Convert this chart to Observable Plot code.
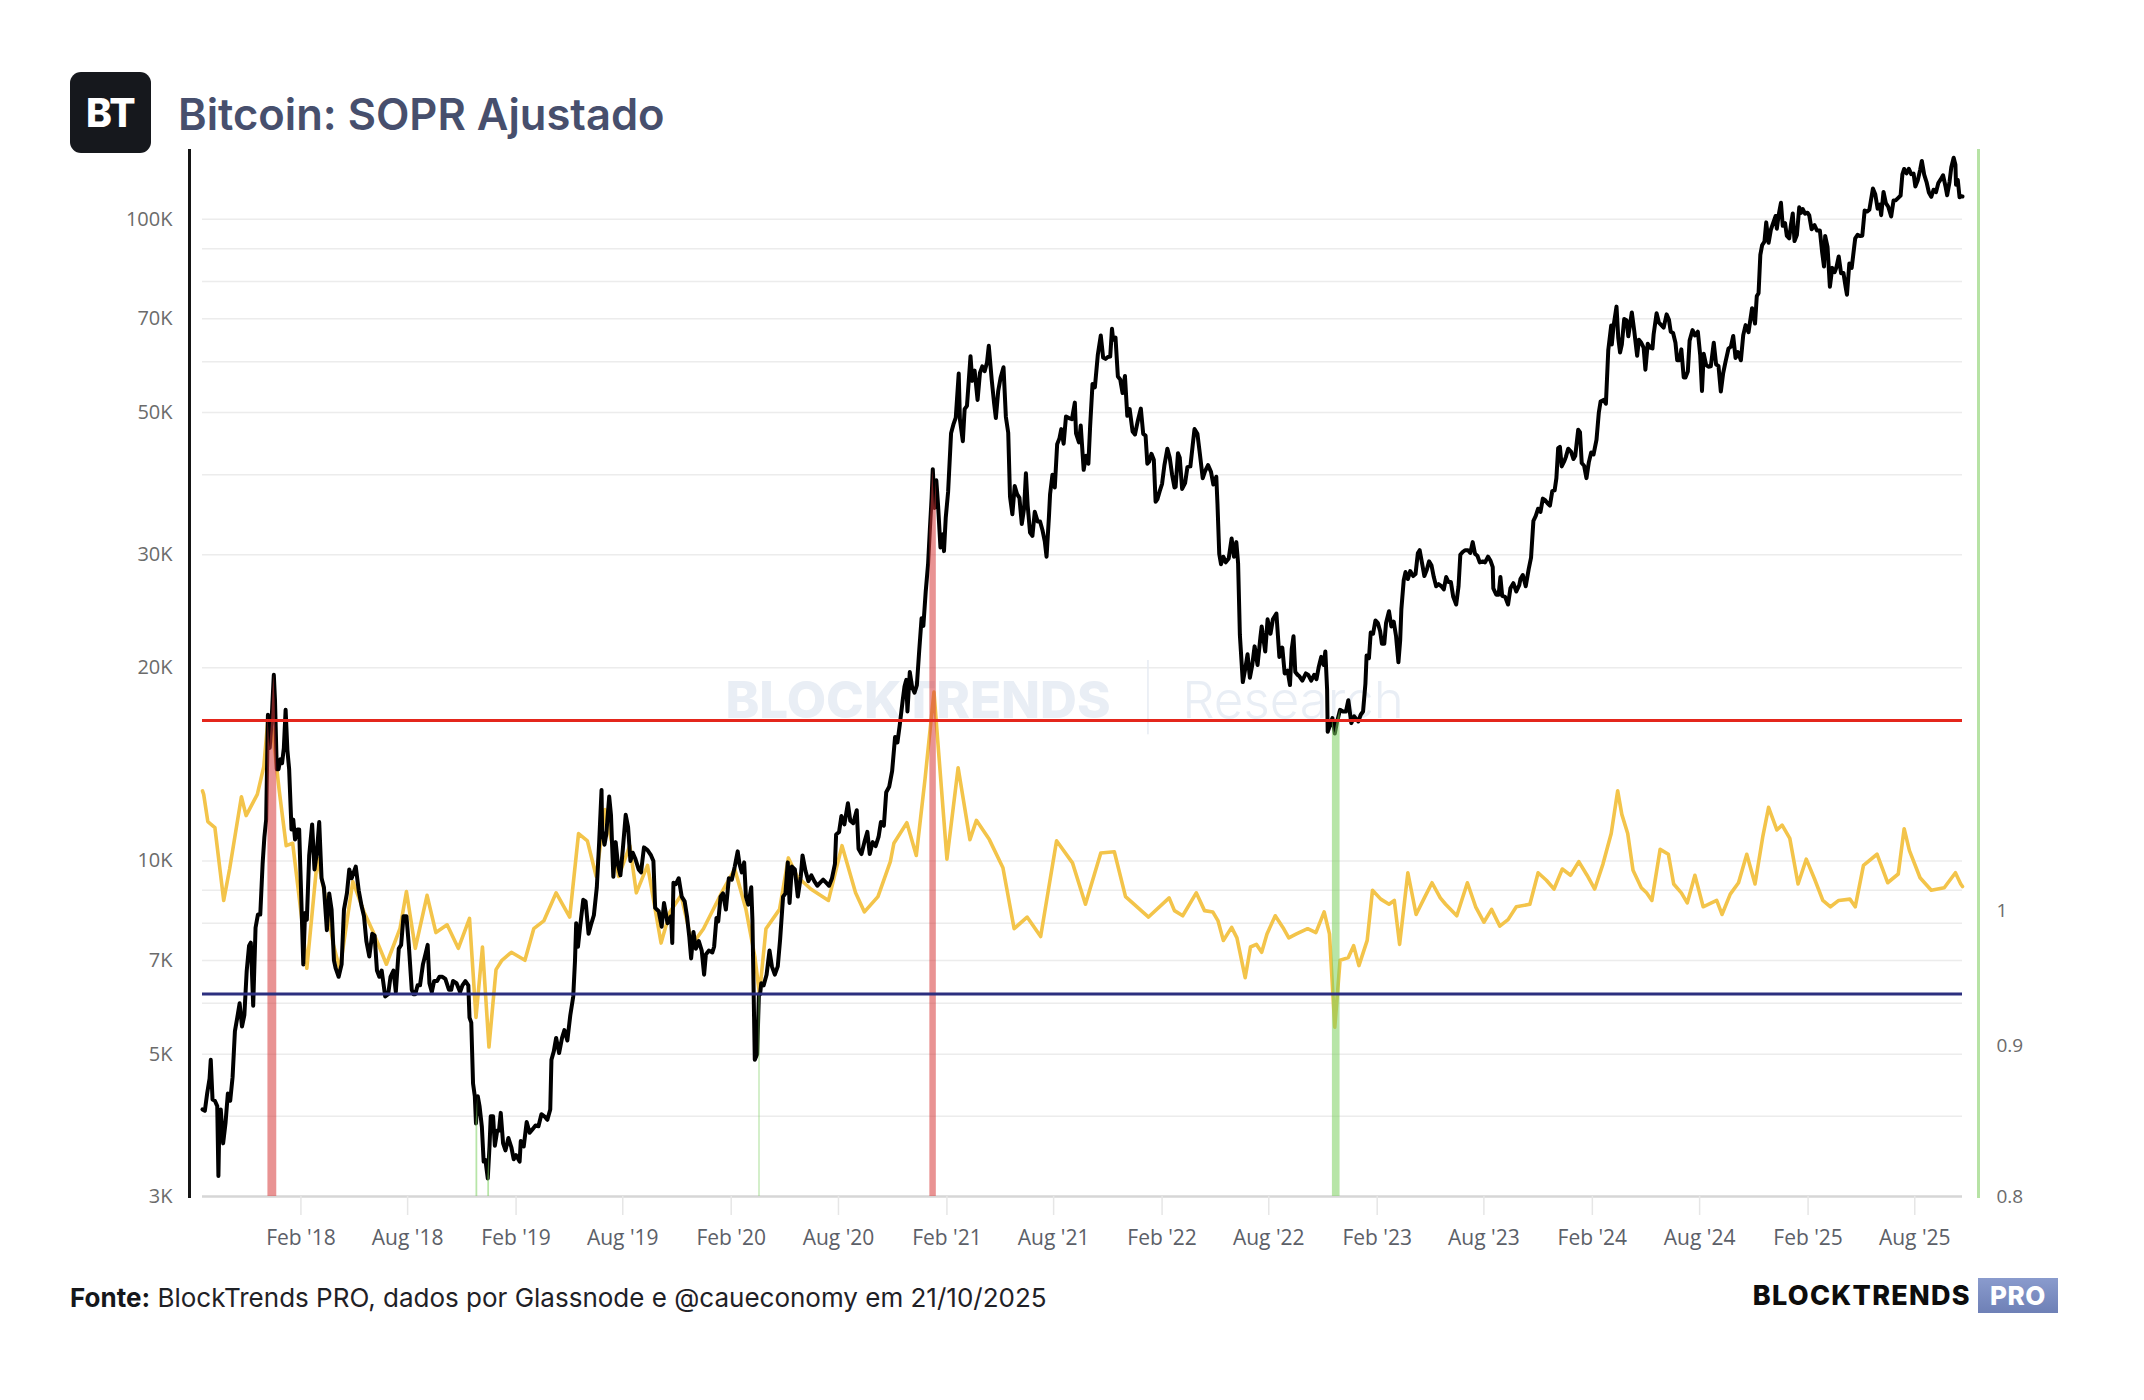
<!DOCTYPE html>
<html>
<head>
<meta charset="utf-8">
<script src="https://cdn.jsdelivr.net/npm/d3@7"></script>
<script src="https://cdn.jsdelivr.net/npm/@observablehq/plot@0.6"></script>
<style>
  html, body { margin: 0; padding: 0; background: #ffffff; }
  #page { position: relative; width: 2144px; }
  #header { position: relative; height: 140px; z-index: 2; }
  #header .logo {
    position: absolute; left: 70px; top: 72px; width: 81px; height: 81px;
    border-radius: 11px; background: #16181d; color: #ffffff;
    font: 800 39px Inter, sans-serif; letter-spacing: -0.5px;
    display: flex; align-items: center; justify-content: center;
  }
  #header .title {
    position: absolute; left: 178px; top: 88px; line-height: 43px;
    font: 600 43.5px Inter, sans-serif; color: #474f6d; white-space: nowrap;
  }
  #chart svg { display: block; }
  #footer { position: relative; height: 70px; }
  #footer .source {
    position: absolute; left: 70px; top: 17px; line-height: 26px;
    font: 400 26px Inter, sans-serif; color: #1f2126; white-space: nowrap;
  }
  #footer .source b { font-weight: 700; color: #15171b; }
  #footer .brand {
    position: absolute; right: 86px; top: 13px; height: 35px;
    display: flex; align-items: center; gap: 7px;
  }
  #footer .brand .name {
    font: 800 27px Inter, sans-serif; letter-spacing: 1.3px; color: #0d0d0d;
  }
  #footer .brand .pro {
    height: 35px; width: 80px; display: flex; align-items: center; justify-content: center;
    background: linear-gradient(#8a9bcd, #6e80b6); color: #ffffff;
    font: 800 26px Inter, sans-serif; letter-spacing: 0.5px;
  }
</style>
</head>
<body>
<div id="page">
  <div id="header">
    <div class="logo">BT</div>
    <div class="title">Bitcoin: SOPR Ajustado</div>
  </div>
  <div id="chart"></div>
  <div id="footer">
    <div class="source"><b>Fonte:</b> BlockTrends PRO, dados por Glassnode e @caueconomy em 21/10/2025</div>
    <div class="brand"><span class="name">BLOCKTRENDS</span><span class="pro">PRO</span></div>
  </div>
</div>
<script>
// Bitcoin price (USD, daily close samples)
const price2017 = [["2017-08-18",4100],["2017-08-22",4080],["2017-08-26",4350],["2017-08-30",4580],["2017-09-01",4900],["2017-09-04",4250],["2017-09-08",4230],["2017-09-12",4150],["2017-09-14",3230],["2017-09-15",3640],["2017-09-18",4100],["2017-09-22",3630],["2017-09-26",3900],["2017-09-30",4340],["2017-10-04",4230],["2017-10-08",4600],["2017-10-12",5430],["2017-10-16",5700],["2017-10-20",6000],["2017-10-24",5520],["2017-10-28",5750],["2017-11-01",6740],["2017-11-05",7380],["2017-11-08",7460],["2017-11-12",5950],["2017-11-16",7870],["2017-11-20",8250],["2017-11-24",8250],["2017-11-28",9900],["2017-12-01",10900],["2017-12-04",11600],["2017-12-07",16900],["2017-12-10",15000],["2017-12-13",16400],["2017-12-17",19500],["2017-12-19",17800],["2017-12-22",13900],["2017-12-25",13900],["2017-12-28",14400],["2017-12-31",14200]];
const price2018 = [["2018-01-03",15000],["2018-01-06",17200],["2018-01-09",14900],["2018-01-12",13900],["2018-01-16",11200],["2018-01-19",11600],["2018-01-22",10800],["2018-01-26",11200],["2018-01-29",11200],["2018-02-01",9100],["2018-02-05",6900],["2018-02-08",8300],["2018-02-11",8100],["2018-02-15",10200],["2018-02-20",11400],["2018-02-24",9700],["2018-02-28",10300],["2018-03-04",11500],["2018-03-08",9400],["2018-03-12",9100],["2018-03-17",7800],["2018-03-21",8900],["2018-03-25",8400],["2018-03-29",7000],["2018-04-01",6800],["2018-04-06",6600],["2018-04-11",6900],["2018-04-15",8400],["2018-04-20",8900],["2018-04-24",9700],["2018-04-28",9400],["2018-05-05",9800],["2018-05-10",9000],["2018-05-15",8500],["2018-05-19",8200],["2018-05-23",7500],["2018-05-28",7100],["2018-06-02",7700],["2018-06-06",7650],["2018-06-10",6750],["2018-06-14",6600],["2018-06-18",6750],["2018-06-24",6150],["2018-06-29",6200],["2018-07-03",6600],["2018-07-08",6750],["2018-07-12",6250],["2018-07-17",7300],["2018-07-21",7400],["2018-07-25",8200],["2018-07-30",8200],["2018-08-03",7400],["2018-08-08",6300],["2018-08-11",6200],["2018-08-14",6200],["2018-08-18",6400],["2018-08-22",6400],["2018-08-27",6900],["2018-09-01",7200],["2018-09-04",7400],["2018-09-07",6450],["2018-09-11",6250],["2018-09-15",6500],["2018-09-20",6500],["2018-09-24",6600],["2018-09-29",6600],["2018-10-04",6550],["2018-10-10",6300],["2018-10-14",6300],["2018-10-17",6500],["2018-10-23",6450],["2018-10-29",6250],["2018-11-02",6400],["2018-11-07",6500],["2018-11-12",6400],["2018-11-14",5700],["2018-11-17",5600],["2018-11-20",4500],["2018-11-23",4300],["2018-11-25",3900],["2018-11-28",4300],["2018-12-01",4150],["2018-12-05",3850],["2018-12-08",3400],["2018-12-11",3420],["2018-12-15",3200],["2018-12-18",3600],["2018-12-20",4000],["2018-12-24",4000],["2018-12-27",3600],["2018-12-31",3800]];
const price2019 = [["2019-01-03",3800],["2019-01-06",4050],["2019-01-10",3630],["2019-01-14",3540],["2019-01-19",3700],["2019-01-24",3580],["2019-01-28",3430],["2019-02-01",3480],["2019-02-07",3400],["2019-02-09",3660],["2019-02-14",3590],["2019-02-19",3920],["2019-02-24",3770],["2019-03-01",3820],["2019-03-06",3870],["2019-03-11",3860],["2019-03-16",4030],["2019-03-21",4000],["2019-03-26",3950],["2019-03-31",4100],["2019-04-02",4900],["2019-04-06",5050],["2019-04-10",5300],["2019-04-15",5020],["2019-04-20",5300],["2019-04-24",5450],["2019-04-29",5250],["2019-05-04",5750],["2019-05-09",6150],["2019-05-12",7000],["2019-05-14",8000],["2019-05-17",7350],["2019-05-21",7950],["2019-05-26",8700],["2019-05-30",8650],["2019-06-04",7700],["2019-06-08",7950],["2019-06-13",8230],["2019-06-18",9100],["2019-06-22",10700],["2019-06-26",12900],["2019-06-27",11150],["2019-07-01",10600],["2019-07-04",11000],["2019-07-09",12600],["2019-07-12",11800],["2019-07-16",9450],["2019-07-20",10700],["2019-07-24",9850],["2019-07-28",9500],["2019-08-01",10400],["2019-08-06",11800],["2019-08-10",11300],["2019-08-14",10000],["2019-08-18",10300],["2019-08-22",10100],["2019-08-28",9700],["2019-09-01",9600],["2019-09-06",10500],["2019-09-12",10400],["2019-09-18",10200],["2019-09-22",10000],["2019-09-25",8450],["2019-10-01",8350],["2019-10-06",7900],["2019-10-10",8600],["2019-10-16",8000],["2019-10-22",8200],["2019-10-24",7450],["2019-10-26",9250],["2019-10-30",9200],["2019-11-04",9400],["2019-11-09",8800],["2019-11-14",8650],["2019-11-18",8200],["2019-11-22",7600],["2019-11-25",7050],["2019-11-29",7750],["2019-12-03",7300],["2019-12-08",7500],["2019-12-13",7250],["2019-12-17",6650],["2019-12-20",7150],["2019-12-25",7250],["2019-12-31",7200]];
const price2020 = [["2020-01-03",7350],["2020-01-07",8150],["2020-01-10",8050],["2020-01-14",8800],["2020-01-18",8900],["2020-01-23",8400],["2020-01-28",9400],["2020-02-02",9350],["2020-02-07",9800],["2020-02-12",10350],["2020-02-15",9900],["2020-02-19",9600],["2020-02-23",9950],["2020-02-26",8800],["2020-03-01",8550],["2020-03-06",9100],["2020-03-08",8100],["2020-03-12",4900],["2020-03-16",5000],["2020-03-19",6200],["2020-03-21",6200],["2020-03-23",6450],["2020-03-27",6400],["2020-04-01",6650],["2020-04-06",7250],["2020-04-10",6850],["2020-04-15",6650],["2020-04-20",6850],["2020-04-24",7550],["2020-04-29",8800],["2020-05-03",8900],["2020-05-07",9950],["2020-05-10",8600],["2020-05-14",9800],["2020-05-19",9700],["2020-05-24",8800],["2020-05-29",9450],["2020-06-01",10200],["2020-06-06",9650],["2020-06-11",9300],["2020-06-16",9500],["2020-06-21",9300],["2020-06-26",9150],["2020-07-01",9250],["2020-07-06",9350],["2020-07-11",9250],["2020-07-16",9150],["2020-07-21",9400],["2020-07-26",9900],["2020-07-28",11000],["2020-08-02",11100],["2020-08-06",11750],["2020-08-11",11400],["2020-08-17",12300],["2020-08-21",11550],["2020-08-26",11450],["2020-09-01",12000],["2020-09-04",10450],["2020-09-09",10250],["2020-09-14",10700],["2020-09-19",11100],["2020-09-23",10250],["2020-09-28",10700],["2020-10-03",10550],["2020-10-08",10900],["2020-10-12",11500],["2020-10-17",11350],["2020-10-21",12800],["2020-10-26",13050],["2020-10-31",13800],["2020-11-05",15600],["2020-11-09",15300],["2020-11-13",16300],["2020-11-18",17800],["2020-11-21",18700],["2020-11-24",19150],["2020-11-26",17100],["2020-11-30",19700],["2020-12-04",18650],["2020-12-08",18300],["2020-12-12",18800],["2020-12-16",21300],["2020-12-20",23900],["2020-12-23",23250],["2020-12-27",26300],["2020-12-31",29000]];
const price2021 = [["2021-01-03",32800],["2021-01-06",36800],["2021-01-08",40800],["2021-01-11",35500],["2021-01-14",39200],["2021-01-17",35800],["2021-01-21",30800],["2021-01-25",32300],["2021-01-27",30400],["2021-01-30",34300],["2021-02-03",37600],["2021-02-08",46400],["2021-02-12",47900],["2021-02-16",49100],["2021-02-21",57500],["2021-02-23",48800],["2021-02-28",45100],["2021-03-03",50600],["2021-03-07",51200],["2021-03-13",61200],["2021-03-16",56000],["2021-03-20",58100],["2021-03-25",52300],["2021-03-29",57600],["2021-04-02",59000],["2021-04-06",58000],["2021-04-10",59800],["2021-04-13",63500],["2021-04-18",56200],["2021-04-22",51700],["2021-04-25",49000],["2021-04-29",54000],["2021-05-03",56600],["2021-05-08",58800],["2021-05-12",49200],["2021-05-16",46500],["2021-05-19",37000],["2021-05-23",34700],["2021-05-27",38400],["2021-05-31",37300],["2021-06-04",36800],["2021-06-08",33500],["2021-06-12",35500],["2021-06-15",40200],["2021-06-18",35800],["2021-06-22",32500],["2021-06-26",32100],["2021-06-30",35000],["2021-07-05",33800],["2021-07-09",33800],["2021-07-13",32800],["2021-07-17",31500],["2021-07-20",29800],["2021-07-24",34300],["2021-07-26",37300],["2021-07-30",40000],["2021-08-03",38200],["2021-08-07",44600],["2021-08-11",45600],["2021-08-14",47100],["2021-08-18",44700],["2021-08-22",49300],["2021-08-27",49000],["2021-09-01",48800],["2021-09-06",51800],["2021-09-08",46400],["2021-09-13",44900],["2021-09-16",47700],["2021-09-21",40700],["2021-09-25",42800],["2021-09-29",41600],["2021-10-02",47700],["2021-10-06",55400],["2021-10-10",54700],["2021-10-15",61500],["2021-10-20",65900],["2021-10-24",60900],["2021-10-28",60600],["2021-11-01",61000],["2021-11-05",61100],["2021-11-08",67500],["2021-11-10",64900],["2021-11-14",65400],["2021-11-18",56900],["2021-11-22",56300],["2021-11-26",53600],["2021-11-30",57000],["2021-12-04",49400],["2021-12-08",50600],["2021-12-13",46700],["2021-12-17",46200],["2021-12-22",48600],["2021-12-27",50700],["2021-12-31",46300]];
const price2022 = [["2022-01-04",46000],["2022-01-07",41600],["2022-01-10",41900],["2022-01-14",43100],["2022-01-18",42200],["2022-01-21",36300],["2022-01-24",36600],["2022-01-28",37700],["2022-02-01",38700],["2022-02-05",41400],["2022-02-10",43900],["2022-02-14",42500],["2022-02-18",40000],["2022-02-22",38200],["2022-02-24",38300],["2022-02-28",43200],["2022-03-03",42500],["2022-03-07",38000],["2022-03-12",38800],["2022-03-16",41100],["2022-03-21",41200],["2022-03-25",44500],["2022-03-28",47100],["2022-04-02",46300],["2022-04-06",43200],["2022-04-11",39500],["2022-04-15",40500],["2022-04-20",41400],["2022-04-25",40400],["2022-04-29",38600],["2022-05-04",39700],["2022-05-06",36000],["2022-05-09",30100],["2022-05-12",29000],["2022-05-16",29800],["2022-05-20",29200],["2022-05-25",29600],["2022-05-30",31800],["2022-06-03",29800],["2022-06-07",31400],["2022-06-10",29100],["2022-06-13",22500],["2022-06-18",19000],["2022-06-22",19900],["2022-06-26",21000],["2022-06-30",19300],["2022-07-04",20200],["2022-07-08",21600],["2022-07-13",20200],["2022-07-18",22400],["2022-07-20",23200],["2022-07-26",21200],["2022-07-30",23800],["2022-08-04",22600],["2022-08-08",23800],["2022-08-14",24300],["2022-08-19",20800],["2022-08-24",21500],["2022-08-28",19600],["2022-09-02",19800],["2022-09-06",18800],["2022-09-09",21400],["2022-09-12",22400],["2022-09-15",19700],["2022-09-19",19500],["2022-09-22",19400],["2022-09-27",19100],["2022-10-03",19600],["2022-10-07",19500],["2022-10-12",19100],["2022-10-17",19500],["2022-10-21",19200],["2022-10-25",20100],["2022-10-29",20800],["2022-11-02",20200],["2022-11-05",21200],["2022-11-08",18500],["2022-11-09",15900],["2022-11-13",16300],["2022-11-17",16700],["2022-11-21",15800],["2022-11-25",16500],["2022-11-30",17200],["2022-12-05",17100],["2022-12-10",17100],["2022-12-14",17800],["2022-12-19",16400],["2022-12-24",16800],["2022-12-31",16500]];
const price2023 = [["2023-01-04",16900],["2023-01-08",17100],["2023-01-12",18900],["2023-01-14",20900],["2023-01-18",20700],["2023-01-21",22700],["2023-01-25",22600],["2023-01-29",23700],["2023-02-02",23500],["2023-02-06",22800],["2023-02-09",21800],["2023-02-13",21800],["2023-02-16",23500],["2023-02-21",24500],["2023-02-25",23200],["2023-03-01",23600],["2023-03-05",22400],["2023-03-09",20400],["2023-03-12",22100],["2023-03-14",24700],["2023-03-18",27400],["2023-03-21",28200],["2023-03-25",27500],["2023-03-29",28300],["2023-04-03",27800],["2023-04-07",28000],["2023-04-11",30200],["2023-04-14",30500],["2023-04-19",28800],["2023-04-22",27800],["2023-04-26",28400],["2023-04-30",29300],["2023-05-04",28900],["2023-05-08",27700],["2023-05-12",26800],["2023-05-16",27000],["2023-05-21",26800],["2023-05-25",26500],["2023-05-29",27700],["2023-06-02",27200],["2023-06-06",27200],["2023-06-10",25800],["2023-06-15",25100],["2023-06-19",26800],["2023-06-22",30000],["2023-06-26",30300],["2023-06-30",30500],["2023-07-05",30500],["2023-07-09",30200],["2023-07-13",31400],["2023-07-17",30100],["2023-07-21",29900],["2023-07-25",29200],["2023-07-30",29300],["2023-08-03",29200],["2023-08-08",29800],["2023-08-12",29400],["2023-08-16",28700],["2023-08-17",26600],["2023-08-22",26000],["2023-08-26",26000],["2023-08-29",27700],["2023-09-01",25900],["2023-09-06",25800],["2023-09-11",25100],["2023-09-15",26600],["2023-09-20",27100],["2023-09-25",26300],["2023-09-30",26900],["2023-10-02",27500],["2023-10-06",27900],["2023-10-11",26800],["2023-10-16",28500],["2023-10-20",29700],["2023-10-24",33900],["2023-10-28",34500],["2023-11-01",35400],["2023-11-05",35000],["2023-11-09",36700],["2023-11-13",36500],["2023-11-17",36100],["2023-11-21",35800],["2023-11-25",37700],["2023-11-29",37800],["2023-12-02",39500],["2023-12-05",44000],["2023-12-08",44200],["2023-12-11",41200],["2023-12-15",41900],["2023-12-18",42600],["2023-12-22",43900],["2023-12-27",43400],["2023-12-31",42300]];
const price2024 = [["2024-01-03",42800],["2024-01-08",47000],["2024-01-11",46600],["2024-01-14",41700],["2024-01-18",41300],["2024-01-22",39500],["2024-01-26",41800],["2024-01-30",43300],["2024-02-03",43000],["2024-02-08",45300],["2024-02-12",50000],["2024-02-15",52000],["2024-02-20",52300],["2024-02-24",51600],["2024-02-28",62500],["2024-03-04",68300],["2024-03-05",63800],["2024-03-08",68200],["2024-03-13",73100],["2024-03-16",65300],["2024-03-19",62000],["2024-03-22",63800],["2024-03-26",69900],["2024-03-30",69600],["2024-04-02",65700],["2024-04-08",71600],["2024-04-12",67100],["2024-04-17",61300],["2024-04-20",64900],["2024-04-24",64200],["2024-04-28",63100],["2024-05-01",58300],["2024-05-05",64000],["2024-05-09",63100],["2024-05-13",62900],["2024-05-15",66200],["2024-05-20",71400],["2024-05-24",69000],["2024-05-28",68400],["2024-06-01",67800],["2024-06-06",71100],["2024-06-10",69700],["2024-06-13",66800],["2024-06-17",66500],["2024-06-21",64200],["2024-06-24",60300],["2024-06-28",60300],["2024-07-01",62700],["2024-07-05",56700],["2024-07-08",56700],["2024-07-12",57900],["2024-07-15",64700],["2024-07-20",67200],["2024-07-24",65900],["2024-07-29",66800],["2024-08-02",61400],["2024-08-05",54000],["2024-08-08",61700],["2024-08-12",59300],["2024-08-16",58900],["2024-08-20",59000],["2024-08-25",64200],["2024-08-29",59400],["2024-09-02",59100],["2024-09-06",53900],["2024-09-10",57600],["2024-09-14",60000],["2024-09-19",62900],["2024-09-23",63300],["2024-09-27",65800],["2024-10-01",60800],["2024-10-05",62100],["2024-10-10",60300],["2024-10-14",66000],["2024-10-18",68400],["2024-10-23",66700],["2024-10-29",72700],["2024-11-03",68800],["2024-11-06",75900],["2024-11-09",76700],["2024-11-12",88000],["2024-11-15",91100],["2024-11-19",92300],["2024-11-22",98900],["2024-11-26",91900],["2024-11-30",96400],["2024-12-04",98800],["2024-12-08",101200],["2024-12-10",96700],["2024-12-13",101400],["2024-12-17",106100],["2024-12-20",97700],["2024-12-24",98600],["2024-12-27",94200],["2024-12-31",93400]];
const price2025 = [["2025-01-03",98100],["2025-01-06",102100],["2025-01-09",92500],["2025-01-13",94500],["2025-01-17",104400],["2025-01-20",102300],["2025-01-23",103700],["2025-01-27",102000],["2025-01-31",102400],["2025-02-03",101400],["2025-02-07",96500],["2025-02-12",97900],["2025-02-16",96100],["2025-02-21",96100],["2025-02-25",88700],["2025-02-28",84400],["2025-03-02",94200],["2025-03-06",90600],["2025-03-10",78500],["2025-03-14",84000],["2025-03-18",82700],["2025-03-21",84100],["2025-03-25",87500],["2025-03-29",82400],["2025-04-02",82500],["2025-04-06",78200],["2025-04-08",76300],["2025-04-12",85300],["2025-04-16",84000],["2025-04-22",93400],["2025-04-26",94600],["2025-04-30",94200],["2025-05-04",94300],["2025-05-08",103200],["2025-05-12",102800],["2025-05-16",103500],["2025-05-22",111700],["2025-05-26",109400],["2025-05-30",103900],["2025-06-03",105400],["2025-06-05",101500],["2025-06-09",110300],["2025-06-13",106000],["2025-06-17",104600],["2025-06-22",101000],["2025-06-26",107000],["2025-06-30",107100],["2025-07-04",108000],["2025-07-08",108900],["2025-07-11",117500],["2025-07-14",119800],["2025-07-18",117900],["2025-07-22",119900],["2025-07-26",117600],["2025-07-30",117800],["2025-08-02",112500],["2025-08-06",114900],["2025-08-10",119300],["2025-08-13",123300],["2025-08-17",117400],["2025-08-21",114300],["2025-08-25",110100],["2025-08-29",108400],["2025-09-02",111200],["2025-09-06",110200],["2025-09-10",113900],["2025-09-14",115400],["2025-09-18",117100],["2025-09-22",112700],["2025-09-25",109000],["2025-09-29",114400],["2025-10-02",120500],["2025-10-06",124700],["2025-10-09",121600],["2025-10-10",113200],["2025-10-13",115200],["2025-10-16",108200],["2025-10-19",108600],["2025-10-21",108500]];

// Adjusted SOPR (right axis)
const sopr2017 = [["2017-08-18",1.098],["2017-08-20",1.095],["2017-08-27",1.072],["2017-09-08",1.067],["2017-09-23",1.008],["2017-10-03",1.033],["2017-10-23",1.093],["2017-10-31",1.077],["2017-11-19",1.095],["2017-11-30",1.119],["2017-12-07",1.161],["2017-12-15",1.151],["2017-12-26",1.099]];
const sopr2018 = [["2018-01-07",1.052],["2018-01-18",1.054],["2018-02-02",0.995],["2018-02-11",0.956],["2018-03-01",1.042],["2018-03-13",1.014],["2018-03-28",0.974],["2018-04-08",0.955],["2018-04-30",1.023],["2018-05-19",0.999],["2018-06-04",0.983],["2018-06-26",0.959],["2018-07-19",0.986],["2018-07-30",1.015],["2018-08-14",0.971],["2018-09-03",1.012],["2018-09-18",0.983],["2018-10-07",0.989],["2018-10-26",0.971],["2018-11-14",0.994],["2018-11-25",0.920],["2018-12-06",0.972],["2018-12-17",0.899],["2018-12-29",0.955]];
const sopr2019 = [["2019-01-08",0.962],["2019-01-24",0.968],["2019-02-16",0.962],["2019-03-03",0.986],["2019-03-20",0.992],["2019-04-10",1.014],["2019-05-03",0.995],["2019-05-18",1.062],["2019-06-02",1.056],["2019-06-17",1.027],["2019-07-02",1.082],["2019-07-25",1.027],["2019-08-13",1.052],["2019-08-24",1.014],["2019-09-12",1.036],["2019-10-05",0.975],["2019-10-20",0.999],["2019-11-08",1.012],["2019-11-27",0.974],["2019-12-16",0.986]];
const sopr2020 = [["2020-01-19",1.017],["2020-02-07",1.033],["2020-02-26",1.001],["2020-03-12",0.965],["2020-03-20",0.937],["2020-03-31",0.986],["2020-04-23",1.001],["2020-05-08",1.042],["2020-05-23",1.027],["2020-06-15",1.017],["2020-07-15",1.008],["2020-08-07",1.052],["2020-08-30",1.014],["2020-09-14",0.999],["2020-10-07",1.011],["2020-10-28",1.039],["2020-11-03",1.054],["2020-11-25",1.071],["2020-12-11",1.044],["2020-12-26",1.109]];
const sopr2021 = [["2021-01-10",1.186],["2021-02-01",1.041],["2021-02-20",1.118],["2021-03-12",1.057],["2021-03-23",1.073],["2021-04-14",1.057],["2021-05-07",1.034],["2021-05-26",0.986],["2021-06-17",0.995],["2021-07-10",0.980],["2021-08-06",1.056],["2021-09-02",1.038],["2021-09-24",1.005],["2021-10-20",1.046],["2021-11-12",1.047],["2021-12-01",1.011]];
const sopr2022 = [["2022-01-09",0.995],["2022-02-13",1.010],["2022-02-22",1.000],["2022-03-08",0.996],["2022-03-31",1.014],["2022-04-14",1.000],["2022-04-28",0.999],["2022-05-07",0.992],["2022-05-16",0.977],["2022-05-30",0.987],["2022-06-08",0.979],["2022-06-22",0.949],["2022-07-01",0.972],["2022-07-11",0.974],["2022-07-20",0.968],["2022-07-29",0.982],["2022-08-12",0.996],["2022-08-25",0.987],["2022-09-04",0.979],["2022-09-17",0.982],["2022-10-06",0.986],["2022-10-20",0.983],["2022-11-03",0.999],["2022-11-12",0.982],["2022-11-21",0.913],["2022-11-30",0.962],["2022-12-14",0.964],["2022-12-23",0.973]];
const sopr2023 = [["2023-01-01",0.958],["2023-01-15",0.977],["2023-01-24",1.016],["2023-02-07",1.009],["2023-02-21",1.005],["2023-03-02",1.008],["2023-03-11",0.974],["2023-03-25",1.030],["2023-04-08",0.997],["2023-04-22",1.010],["2023-05-05",1.022],["2023-05-19",1.010],["2023-05-28",1.005],["2023-06-16",0.996],["2023-07-04",1.022],["2023-07-18",1.003],["2023-08-01",0.991],["2023-08-14",1.001],["2023-08-28",0.988],["2023-09-11",0.993],["2023-09-25",1.003],["2023-10-18",1.005],["2023-11-01",1.030],["2023-11-15",1.024],["2023-11-28",1.017],["2023-12-12",1.033],["2023-12-26",1.028]];
const sopr2024 = [["2024-01-09",1.039],["2024-01-23",1.028],["2024-02-05",1.017],["2024-02-19",1.037],["2024-03-04",1.062],["2024-03-15",1.098],["2024-03-22",1.078],["2024-04-01",1.062],["2024-04-10",1.032],["2024-04-24",1.018],["2024-05-03",1.014],["2024-05-12",1.008],["2024-05-26",1.049],["2024-06-09",1.045],["2024-06-18",1.021],["2024-07-01",1.014],["2024-07-11",1.006],["2024-07-24",1.028],["2024-08-07",1.003],["2024-08-21",1.006],["2024-08-30",1.008],["2024-09-08",0.997],["2024-09-22",1.013],["2024-10-06",1.022],["2024-10-20",1.045],["2024-11-03",1.021],["2024-11-16",1.059],["2024-11-26",1.084],["2024-12-10",1.065],["2024-12-19",1.069]];
const sopr2025 = [["2025-01-01",1.058],["2025-01-15",1.021],["2025-01-29",1.041],["2025-02-12",1.025],["2025-02-26",1.008],["2025-03-11",1.003],["2025-03-25",1.008],["2025-04-13",1.009],["2025-04-22",1.003],["2025-05-06",1.036],["2025-05-29",1.045],["2025-06-16",1.022],["2025-07-04",1.029],["2025-07-14",1.066],["2025-07-23",1.048],["2025-08-10",1.026],["2025-08-29",1.016],["2025-09-20",1.018],["2025-10-09",1.030],["2025-10-18",1.021],["2025-10-21",1.019]];

// Signal levels on the SOPR axis and the highlighted periods
const sellLevel = 1.16;
const buyLevel = 0.937;
const highPeriods = [["2017-12-05", "2017-12-22"], ["2021-01-01", "2021-01-16"]];
const lowPeriods = [["2018-11-24", "2018-11-29"], ["2018-12-13", "2018-12-18"], ["2020-03-19", "2020-03-21"], ["2022-11-16", "2022-12-02"]];

// Axis ticks
const priceTicks = [3000, 5000, 7000, 10000, 20000, 30000, 50000, 70000, 100000];
const priceGrid = [4000, 5000, 6000, 7000, 8000, 9000, 10000, 20000, 30000, 40000, 50000, 60000, 70000, 80000, 90000, 100000];
const soprTicks = [0.8, 0.9, 1];
const dateTicks = ["2018-02-01", "2018-08-01", "2019-02-01", "2019-08-01", "2020-02-01", "2020-08-01", "2021-02-01", "2021-08-01", "2022-02-01", "2022-08-01", "2023-02-01", "2023-08-01", "2024-02-01", "2024-08-01", "2025-02-01", "2025-08-01"];

const priceDomain = [3000, 128000];
const soprDomain = [0.8, 1.81];
const dateDomain = [new Date("2017-08-18"), new Date("2025-10-21")];

// The SOPR axis is a second log scale sharing the same vertical range
const priceUnit = d3.scaleLog(priceDomain, [0, 1]);
const soprUnit = d3.scaleLog(soprDomain, [0, 1]);
const soprToPrice = (s) => priceUnit.invert(soprUnit(s));

const toRows = (arrays) => arrays.flat().map(([d, v]) => ({date: new Date(d), value: v}));
const price = toRows([price2017, price2018, price2019, price2020, price2021, price2022, price2023, price2024, price2025]);
const sopr = toRows([sopr2017, sopr2018, sopr2019, sopr2020, sopr2021, sopr2022, sopr2023, sopr2024, sopr2025]);

const inPeriods = (periods) => periods.flatMap(([a, b], i) => {
  const start = new Date(a), end = new Date(b);
  return price.filter((d) => d.date >= start && d.date <= end).map((d) => ({...d, period: i}));
});
const highArea = inPeriods(highPeriods);
const lowArea = inPeriods(lowPeriods);

const soprLabel = new Map(soprTicks.map((s) => [soprToPrice(s), String(s)]));
const fmtDate = d3.utcFormat("%b '%y");
const across = {insetLeft: 13, insetRight: 16};

const chart = Plot.plot({
  width: 2144,
  height: 1125,
  marginTop: 10,
  marginBottom: 69,
  marginLeft: 189,
  marginRight: 166,
  style: {fontFamily: "'Open Sans', sans-serif", background: "transparent", overflow: "visible"},
  x: {type: "utc", domain: dateDomain, insetLeft: 13, insetRight: 16, axis: null},
  y: {type: "log", domain: priceDomain, axis: null},
  marks: [
    Plot.ruleY(priceGrid, {stroke: "#ececec", strokeWidth: 1.5, ...across}),
    Plot.text(["BLOCKTRENDS"], {frameAnchor: "middle", dx: -166, dy: 28, fontSize: 51, fontWeight: 800, fontFamily: "Inter", fill: "#e9eef5"}),
    Plot.text(["|"], {frameAnchor: "middle", dx: 64, dy: 27, fontSize: 62, fontWeight: 100, fontFamily: "Inter", fill: "#e6ebf2"}),
    Plot.text(["Research"], {frameAnchor: "middle", dx: 209, dy: 28, fontSize: 51, fontWeight: 300, fontFamily: "Inter", fill: "#e9eef5"}),
    Plot.ruleY([priceDomain[0]], {stroke: "#d6d6d6", strokeWidth: 2.5, ...across}),
    Plot.axisX(dateTicks.map((d) => new Date(d)), {anchor: "bottom", tickSize: 19, tickPadding: 15, stroke: "#e6e6e6", strokeWidth: 1.5, fill: "#5c6068", fontSize: 21, tickFormat: fmtDate, label: null}),
    Plot.axisY(priceTicks, {anchor: "left", tickSize: 0, tickPadding: 17, fill: "#6b6b6b", fontSize: 20, tickFormat: (d) => d / 1000 + "K", label: null}),
    Plot.axisY(soprTicks.map(soprToPrice), {anchor: "right", tickSize: 0, tickPadding: 18, fill: "#6b6b6b", fontSize: 19, tickFormat: (d) => soprLabel.get(d), label: null}),
    Plot.frame({anchor: "left", stroke: "#151515", strokeWidth: 3}),
    Plot.frame({anchor: "right", stroke: "#b7e3a5", strokeWidth: 3}),
    Plot.lineY(sopr, {x: "date", y: (d) => soprToPrice(d.value), stroke: "#f3c44a", strokeWidth: 3.6, strokeLinejoin: "round", strokeLinecap: "round"}),
    Plot.lineY(price, {x: "date", y: "value", stroke: "#000000", strokeWidth: 4, strokeLinejoin: "round", strokeLinecap: "round"}),
    Plot.areaY(highArea, {x: "date", y1: priceDomain[0], y2: "value", z: "period", fill: "#d73a3a", fillOpacity: 0.55}),
    Plot.areaY(lowArea, {x: "date", y1: priceDomain[0], y2: "value", z: "period", fill: "#7ccf5e", fillOpacity: 0.55}),
    Plot.ruleY([soprToPrice(sellLevel)], {stroke: "#e4261c", strokeWidth: 3, ...across}),
    Plot.ruleY([soprToPrice(buyLevel)], {stroke: "#2c2f7f", strokeWidth: 3, ...across})
  ]
});
document.getElementById("chart").append(chart);
</script>
</body>
</html>
